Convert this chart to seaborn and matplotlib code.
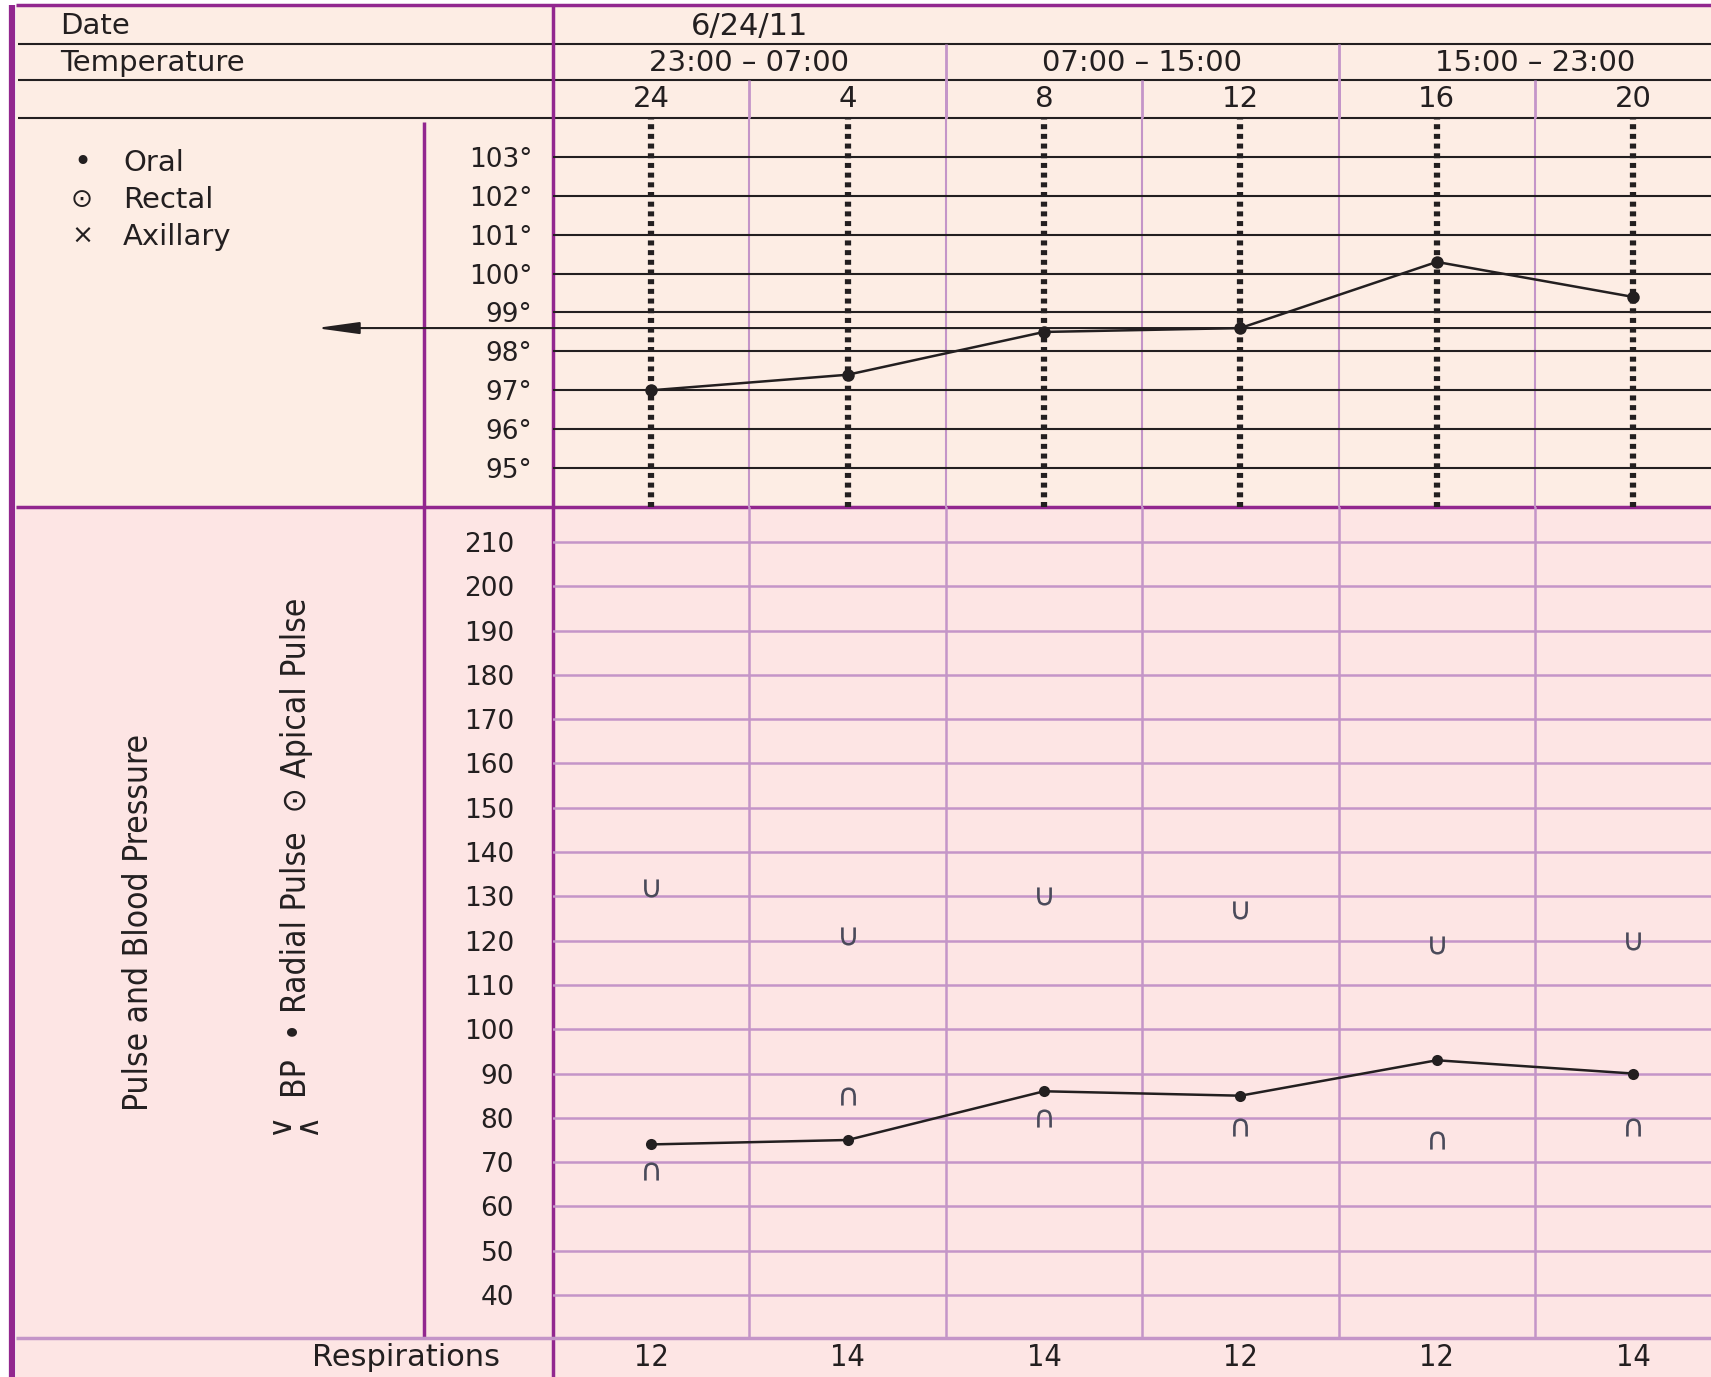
import matplotlib
matplotlib.use("Agg")
import matplotlib.pyplot as plt
import matplotlib.transforms as mtransforms
from matplotlib import font_manager
import pandas as pd
import seaborn as sns

# chart values
date_label = "6/24/11"
shifts = ["23:00 – 07:00", "07:00 – 15:00", "15:00 – 23:00"]
hours = ["24", "4", "8", "12", "16", "20"]
temperature = [97.0, 97.4, 98.5, 98.6, 100.3, 99.4]
pulse = [74, 75, 86, 85, 93, 90]
systolic = [132, 121, 130, 127, 119, 120]
diastolic = [68, 85, 80, 78, 75, 78]
respirations = [12, 14, 14, 12, 12, 14]
temp_ticks = [95, 96, 97, 98, 99, 100, 101, 102, 103]
pulse_ticks = [40, 50, 60, 70, 80, 90, 100, 110, 120, 130, 140, 150, 160,
               170, 180, 190, 200, 210]
normal_temp = 98.6
legend_items = [("•", "Oral"), ("⊙", "Rectal"), ("×", "Axillary")]

# colours
PURPLE = "#92278f"
LILAC = "#c495c8"
INK = "#231f20"
PEACH = "#fdede4"
PINK = "#fde5e4"

# layout in pixels (figure is 1711 x 1377 at 100 dpi)
W, H = 1711, 1377
X_LEFT, X_TICKCOL, X_GRID, COL = 16, 424, 553, 196.4
Y_TOP, Y_DATE, Y_TEMP, Y_HOURS, Y_MID, Y_RESP = 5, 44, 80, 118, 507, 1338

sns.set_theme(style="white")
plt.rcParams["font.family"] = ["DejaVu Sans"]

# a narrow face for the side labels, if one is installed
entries = font_manager.fontManager.ttflist
narrow_kw = dict(family=["DejaVu Sans"])
narrow_size = 21
for f in entries:
    if f.name == "Liberation Sans Narrow":
        narrow_kw, narrow_size = dict(family=["Liberation Sans Narrow", "DejaVu Sans"]), 26
        break
else:
    for f in entries:
        if f.name == "DejaVu Sans" and f.stretch == "condensed":
            narrow_kw, narrow_size = dict(family=["DejaVu Sans"], fontstretch="condensed"), 24
            break

fig = plt.figure(figsize=(W / 100, H / 100), dpi=100)
fig.patch.set_facecolor("white")

# background frame in pixel units for the form's rules and labels
frame = fig.add_axes([0, 0, 1, 1], zorder=0)
frame.set_xlim(0, W)
frame.set_ylim(H, 0)
frame.axis("off")
frame.add_patch(plt.Rectangle((X_LEFT, Y_TOP), W - X_LEFT, Y_MID - Y_TOP,
                              color=PEACH, lw=0))
frame.add_patch(plt.Rectangle((X_LEFT, Y_MID), W - X_LEFT, H - Y_MID,
                              color=PINK, lw=0))


def data_axes(top, bottom):
    ax = fig.add_axes([X_GRID / W, 1 - bottom / H, (W - X_GRID) / W,
                       (bottom - top) / H], zorder=2)
    ax.set_facecolor("none")
    ax.set_xlim(-0.5, -0.5 + (W - X_GRID) / COL)
    ax.set_xticks([])
    sns.despine(ax=ax, left=True, bottom=True)
    return ax


ax_t = data_axes(Y_HOURS, Y_MID)
ax_p = data_axes(Y_MID, Y_RESP)
ax_t.set_ylim(94, 104)
ax_p.set_ylim(30.3, 217.9)

df = pd.DataFrame({"slot": range(len(hours)), "hour": hours,
                   "temp": temperature, "pulse": pulse,
                   "sys": systolic, "dia": diastolic, "resp": respirations})

head = mtransforms.blended_transform_factory(ax_t.transData, frame.transData)
bounds = [k - 0.5 for k in range(1, 7)]

# ---- header ----
for y in (Y_DATE, Y_TEMP, Y_HOURS):
    frame.hlines(y, 18, W, color=INK, lw=1.5)
frame.text(60, 26, "Date", fontsize=21, color=INK, va="center")
frame.text(60, 63, "Temperature", fontsize=21, color=INK, va="center")
ax_t.text(0.5, 26, date_label, transform=head, fontsize=22, color=INK,
          ha="center", va="center", clip_on=False)
for j, s in enumerate(shifts):
    ax_t.text(2 * j + 0.5, 63, s, transform=head, fontsize=21, color=INK,
              ha="center", va="center", clip_on=False)
    if j:
        ax_t.vlines(2 * j - 0.5, Y_DATE, Y_HOURS, transform=head,
                    color=LILAC, lw=2, clip_on=False)
for i, h in enumerate(df["hour"]):
    ax_t.text(i, 99, h, transform=head, fontsize=21, color=INK,
              ha="center", va="center", clip_on=False)
ax_t.vlines(bounds, Y_TEMP, Y_HOURS, transform=head, color=LILAC, lw=2,
            clip_on=False)

# ---- temperature panel ----
for t in temp_ticks:
    ax_t.axhline(t, color=INK, lw=1.5, zorder=1)
for b in bounds:
    ax_t.axvline(b, color=LILAC, lw=1.5, zorder=0)
for i in df["slot"]:
    ax_t.axvline(i, color=INK, lw=4.5, ls=(0, (0.8, 0.75)), zorder=2)
sns.lineplot(data=df, x="slot", y="temp", ax=ax_t, color=INK, lw=1.8,
             marker="o", markersize=9, markeredgewidth=0, zorder=3)
ax_t.set_yticks(temp_ticks, labels=[f"{t}°" for t in temp_ticks])
ax_t.tick_params(axis="y", length=0, pad=15, labelsize=19, labelcolor=INK)
ax_t.set_xlabel("")
ax_t.set_ylabel("")

arrow_tf = mtransforms.blended_transform_factory(frame.transData, ax_t.transData)
ax_t.annotate("", xy=(316, normal_temp), xytext=(W, normal_temp),
              xycoords=arrow_tf, textcoords=arrow_tf, annotation_clip=False,
              arrowprops=dict(arrowstyle="-|>,head_length=1.3,head_width=0.18",
                              color=INK, lw=1.5, mutation_scale=20,
                              shrinkA=0, shrinkB=0))

for k, (sym, lab) in enumerate(legend_items):
    y = 163 + 37 * k
    frame.text(82, y, sym, fontsize=22 if sym == "•" else 19, color=INK,
               ha="center", va="center")
    frame.text(123, y, lab, fontsize=21, color=INK, va="center")

# ---- pulse and blood pressure panel ----
for p in pulse_ticks:
    ax_p.axhline(p, color=LILAC, lw=1.8, zorder=0)
for b in bounds:
    ax_p.axvline(b, color=LILAC, lw=1.8, zorder=0)
sns.lineplot(data=df, x="slot", y="pulse", ax=ax_p, color=INK, lw=1.8,
             marker="o", markersize=8, markeredgewidth=0, zorder=3)
sns.scatterplot(data=df, x="slot", y="sys", ax=ax_p, marker=r"$\cup$",
                s=170, color="#4a4a5a", linewidth=0, zorder=3)
sns.scatterplot(data=df, x="slot", y="dia", ax=ax_p, marker=r"$\cap$",
                s=170, color="#4a4a5a", linewidth=0, zorder=3)
ax_p.set_yticks(pulse_ticks, labels=[str(p) for p in pulse_ticks])
ax_p.tick_params(axis="y", length=4, width=1.5, color=LILAC, pad=24,
                 labelsize=19, labelcolor=INK)
ax_p.set_xlabel("")
ax_p.set_ylabel("")

frame.text(139, 922, "Pulse and Blood Pressure", rotation=90,
           fontsize=narrow_size, color=INK, ha="center", va="center",
           **narrow_kw)
frame.text(297, 848, "BP  • Radial Pulse  ⊙ Apical Pulse", rotation=90,
           fontsize=narrow_size, color=INK, ha="center", va="center",
           **narrow_kw)
frame.text(293, 1124, "∨\n∧", rotation=90, fontsize=22, color=INK,
           ha="center", va="center", linespacing=0.9)

# ---- respirations row ----
frame.text(500, 1358, "Respirations", fontsize=22, color=INK, ha="right",
           va="center")
for i, r in zip(df["slot"], df["resp"]):
    ax_p.text(i, 1358, str(r), transform=head, fontsize=22, color=INK,
              ha="center", va="center", clip_on=False, **narrow_kw)

# ---- purple rules of the form ----
frame.hlines(Y_TOP, X_LEFT, W, color=PURPLE, lw=2.5)
frame.vlines(12, Y_TOP, H, color=PURPLE, lw=4.5)
frame.vlines(X_GRID, Y_TOP, H, color=PURPLE, lw=2.5)
frame.vlines(X_TICKCOL, 122, Y_RESP, color=PURPLE, lw=2.5)
frame.hlines(Y_MID, X_LEFT, W, color=PURPLE, lw=2.5)
frame.hlines(Y_RESP, X_LEFT, W, color=LILAC, lw=2.5)

fig.savefig("out.png", dpi=100)
